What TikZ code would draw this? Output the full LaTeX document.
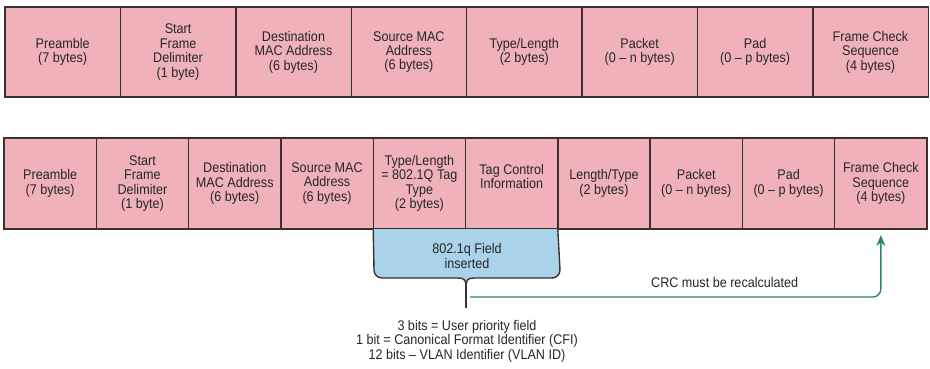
\documentclass[tikz,border=0pt]{standalone}
\usepackage{fontspec}
\setmainfont{Liberation Sans}[FakeStretch=0.9]
\usetikzlibrary{positioning, arrows.meta, calc}

\definecolor{fieldpink}{RGB}{240,178,184}
\definecolor{fieldline}{RGB}{58,48,48}
\definecolor{tagblue}{RGB}{170,210,232}
\definecolor{crcgreen}{RGB}{46,134,96}

\tikzset{
  field/.style={draw=fieldline, fill=fieldpink, line width=1.4pt, inner sep=0pt, outer sep=0pt,
    align=center, minimum height=90pt, font=\fontsize{14}{14.4}\selectfont, text=black!85},
  topfield/.style={field, minimum width=115.4pt},
  botfield/.style={field, minimum width=92.3pt, minimum height=91pt},
  tagshape/.style={draw=fieldline, fill=tagblue, line width=1.4pt},
  tagtext/.style={align=center, font=\fontsize{14}{15.5}\selectfont, text=black!85},
  stem/.style={draw=fieldline, line width=1.4pt},
  crcarrow/.style={draw=crcgreen, line width=1.4pt, rounded corners=8pt, -{Stealth[length=11pt,width=9pt]}, shorten >=6pt},
  note/.style={align=center, font=\fontsize{14}{14.5}\selectfont, text=black!85}
}

\begin{document}
\begin{tikzpicture}[x=1pt, y=-1pt]
    \useasboundingbox (0,0) rectangle (930,368);

    % --- ORIGINAL FRAME ---
    \foreach \txt [count=\i] in {{Preamble\\(7 bytes)}, {Start\\Frame\\Delimiter\\(1 byte)},
        {Destination\\MAC Address\\(6 bytes)}, {Source MAC\\Address\\(6 bytes)},
        {Type/Length\\(2 bytes)}, {Packet\\(0 -- n bytes)}, {Pad\\(0 -- p bytes)},
        {Frame Check\\Sequence\\(4 bytes)}}
        \node[topfield, anchor=north west] (t\i) at ({5+115.4*(\i-1)},7) {\txt};

    % --- TAGGED FRAME ---
    \foreach \txt [count=\i] in {{Preamble\\(7 bytes)}, {Start\\Frame\\Delimiter\\(1 byte)},
        {Destination\\MAC Address\\(6 bytes)}, {Source MAC\\Address\\(6 bytes)},
        {Type/Length\\= 802.1Q Tag\\Type\\(2 bytes)}, {Tag Control\\Information\\\mbox{}},
        {Length/Type\\(2 bytes)}, {Packet\\(0 -- n bytes)}, {Pad\\(0 -- p bytes)},
        {Frame Check\\Sequence\\(4 bytes)}}
        \node[botfield, anchor=north west] (b\i) at ({4+92.3*(\i-1)},138) {\txt};

    % Inserted 802.1q field (brace shaped)
    \filldraw[tagshape] (b5.south west) -- (374,270) arc[start angle=180, end angle=90, radius=8]
        -- (458,278) .. controls (464,278) and (466,280) .. (466,286)
        .. controls (466,280) and (468,278) .. (474,278)
        -- (552,278) arc[start angle=90, end angle=0, radius=8] -- (b6.south east);
    \node[tagtext] (tag) at (467,256) {802.1q Field\\inserted};

    % Stem and CRC arrow
    \coordinate (tip) at (466,286);
    \coordinate (stemend) at (466,308);
    \draw[stem] (tip) -- (stemend);
    \coordinate (crcstart) at (470,297);
    \draw[crcarrow] (crcstart) -| (b10.south)
        node[pos=0.31, above=5pt, text=black!85, font=\fontsize{14}{14.5}\selectfont] (crc) {CRC must be recalculated};

    % Tag bits
    \node[note] (bits) at (467,341) {3 bits = User priority field\\1 bit = Canonical Format Identifier (CFI)\\12 bits -- VLAN Identifier (VLAN ID)};
\end{tikzpicture}
\end{document}
